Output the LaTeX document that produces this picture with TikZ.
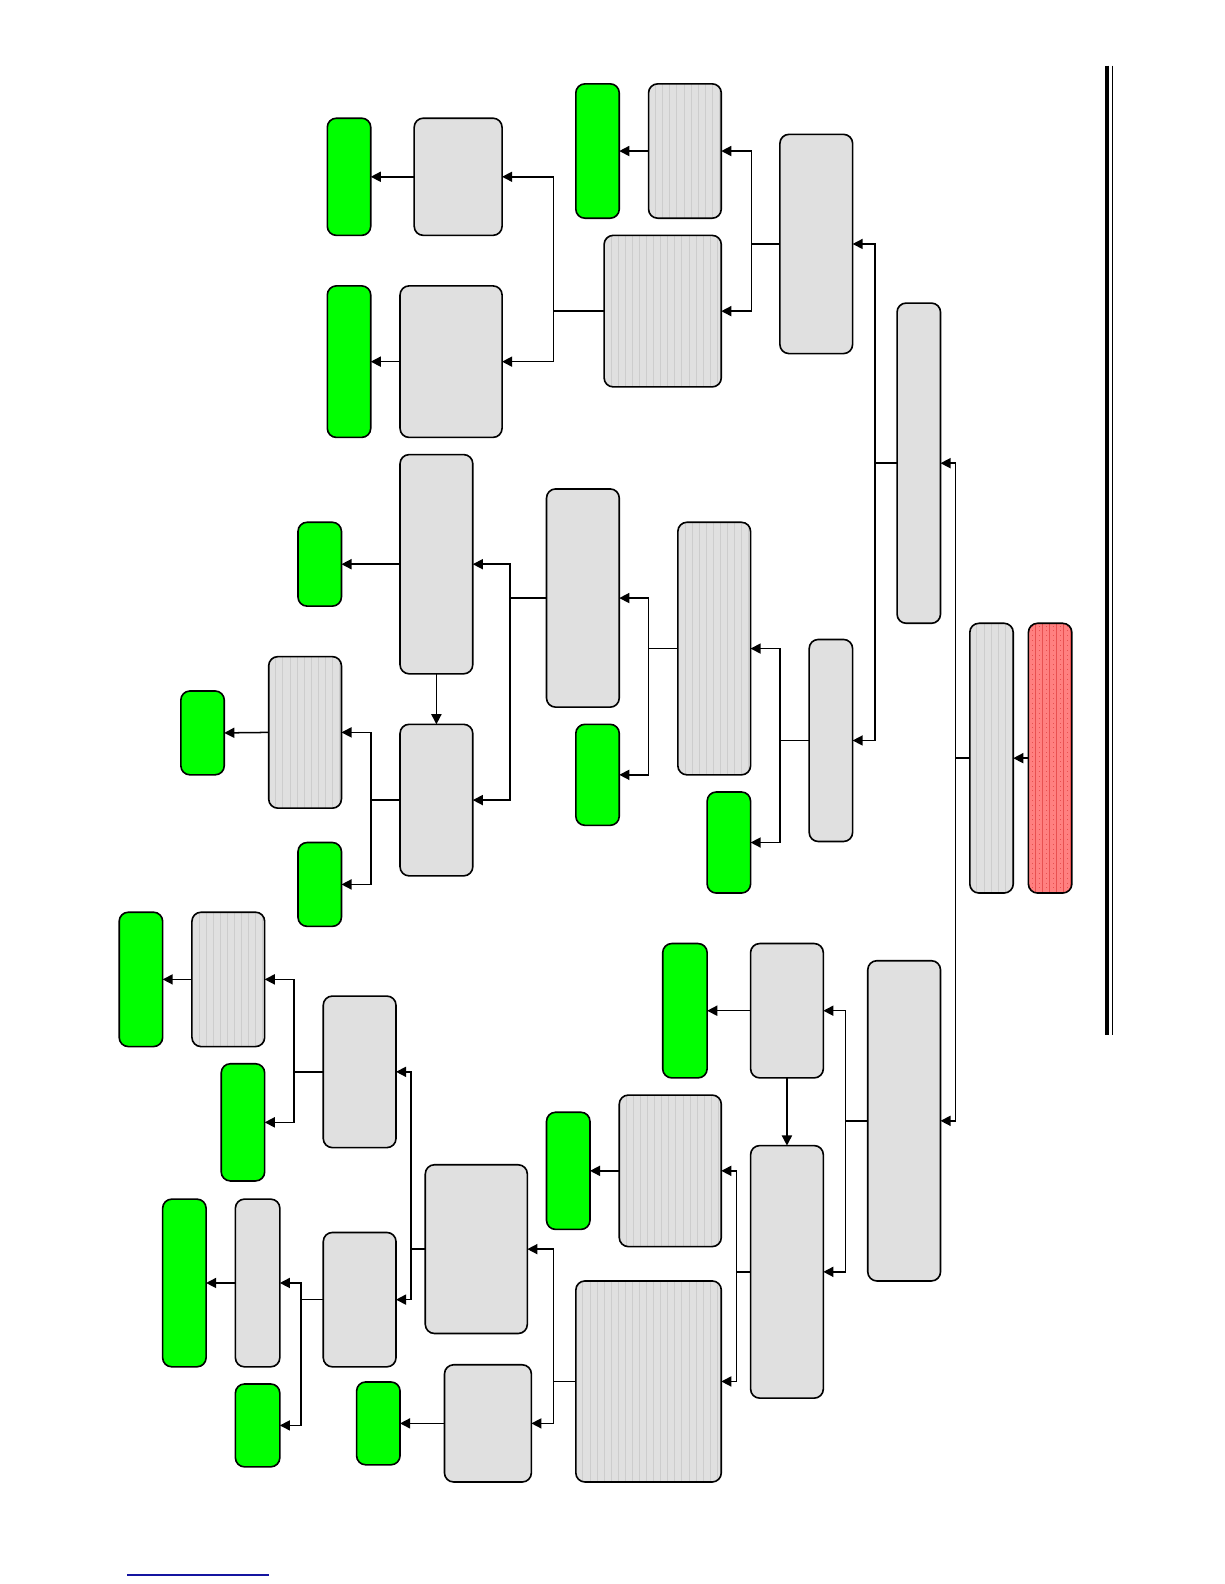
\documentclass[tikz,border=0pt]{standalone}
\usetikzlibrary{arrows.meta}
\definecolor{boxgray}{RGB}{224,224,224}
\definecolor{stripegray}{RGB}{205,205,205}
\definecolor{boxgreen}{RGB}{0,255,0}
\definecolor{boxred}{RGB}{255,128,128}
\definecolor{stripered}{RGB}{232,80,80}
\definecolor{linkblue}{RGB}{20,20,160}
\tikzset{
  x=0.5pt, y=-0.5pt,
  base/.style={draw=black, line width=0.8pt, rounded corners=4.5pt, inner sep=0pt, outer sep=0pt},
  gbox/.style={base, fill=boxgray},
  grn/.style={base, fill=boxgreen},
  sbox/.style={base, fill=boxgray, path picture={
      \foreach \k in {1,...,24}{\draw[stripegray, line width=0.4pt]
        ([xshift=\k*3.5pt]path picture bounding box.south west) --
        ([xshift=\k*3.5pt]path picture bounding box.north west);}}},
  rbox/.style={base, fill=boxred, path picture={
      \foreach \k in {1,...,7}{\draw[stripered, line width=0.4pt]
        ([xshift=\k*3.5pt]path picture bounding box.south west) --
        ([xshift=\k*3.5pt]path picture bounding box.north west);
        \draw[stripered, line width=0.4pt, dotted]
        ([xshift=\k*3.5pt-1.75pt]path picture bounding box.south west) --
        ([xshift=\k*3.5pt-1.75pt]path picture bounding box.north west);}}},
  link/.style={draw=black, line width=0.75pt},
  arr/.style={link, -{Triangle[length=5pt,width=5pt]}},
}
\newcommand\bx[6]{\node[#6, minimum width={(#4-#2)*0.5pt}, minimum height={(#5-#3)*0.5pt}] (#1) at ({(#2+#4)/2},{(#3+#5)/2}) {};}
\newcommand\conn[3]{\draw[link] (#1.west) -- (#1.west -| #2); \draw[arr] (#1.west -| #2) |- (#3.east);}
\begin{document}
\begin{tikzpicture}
\useasboundingbox (0,0) rectangle (1212,1568);
% side rule and link
\coordinate (ruleA) at (1096,65); \coordinate (ruleB) at (1096,1025);
\draw[line width=2pt] (ruleA) -- (ruleB);
\draw[line width=0.6pt] ([xshift=2.6pt]ruleA) -- ([xshift=2.6pt]ruleB);
\coordinate (blA) at (126,1559); \coordinate (blB) at (266,1559);
\draw[linkblue, line width=0.6pt] (blA) -- (blB);
% bus coordinates
\coordinate (b0) at (946,0);
\coordinate (bA) at (866,0);
\coordinate (bB) at (744,0);
\coordinate (bE) at (548,0);
\coordinate (bC) at (772,0);
\coordinate (bI) at (642,0);
\coordinate (bJ) at (505,0);
\coordinate (bL) at (367,0);
\coordinate (bN) at (837,0);
\coordinate (bP) at (729,0);
\coordinate (bR) at (548,0);
\coordinate (bS) at (407,0);
\coordinate (bU) at (291,0);
\coordinate (bV) at (298,0);
% root
\bx{red}{1018}{617}{1061}{884}{rbox}
\bx{root}{960}{617}{1003}{884}{sbox}
% top branch
\bx{A}{888}{300}{931}{617}{gbox}
\bx{B}{772}{133}{844}{350}{gbox}
\bx{D}{642}{83}{714}{216}{sbox}
\bx{G1}{570}{83}{613}{216}{grn}
\bx{E}{598}{233}{714}{383}{sbox}
\bx{F}{410}{117}{497}{233}{gbox}
\bx{G2}{324}{117}{367}{233}{grn}
\bx{H}{396}{283}{497}{433}{gbox}
\bx{G3}{324}{283}{367}{433}{grn}
\bx{C}{801}{633}{844}{833}{gbox}
\bx{I}{671}{517}{743}{767}{sbox}
\bx{G4}{700}{784}{743}{884}{grn}
\bx{J}{541}{484}{613}{700}{gbox}
\bx{G5}{570}{717}{613}{817}{grn}
\bx{K}{396}{450}{468}{667}{gbox}
\bx{L}{396}{717}{468}{867}{gbox}
\bx{G6}{295}{517}{338}{600}{grn}
\bx{M}{266}{650}{338}{800}{sbox}
\bx{G7}{295}{834}{338}{917}{grn}
\bx{G8}{179}{684}{222}{767}{grn}
% bottom branch
\bx{N}{859}{951}{931}{1268}{gbox}
\bx{O}{743}{934}{815}{1067}{gbox}
\bx{G9}{656}{934}{700}{1067}{grn}
\bx{P}{743}{1134}{815}{1384}{gbox}
\bx{Q}{613}{1084}{714}{1234}{sbox}
\bx{G10}{541}{1101}{584}{1217}{grn}
\bx{R}{570}{1268}{714}{1467}{sbox}
\bx{S}{421}{1153}{522}{1320}{gbox}
\bx{T}{440}{1351}{526}{1467}{gbox}
\bx{G11}{353}{1368}{396}{1450}{grn}
\bx{U}{320}{986}{392}{1136}{gbox}
\bx{V}{320}{1220}{392}{1353}{gbox}
\bx{W}{190}{903}{262}{1036}{sbox}
\bx{G12}{219}{1053}{262}{1169}{grn}
\bx{G13}{118}{903}{161}{1036}{grn}
\bx{X}{233}{1187}{277}{1353}{gbox}
\bx{G14}{233}{1370}{277}{1452}{grn}
\bx{G15}{161}{1187}{204}{1353}{grn}
% connectors
\draw[arr] (red.west) -- (root.east);
\conn{root}{b0}{A}
\conn{root}{b0}{N}
\conn{A}{bA}{B}
\conn{A}{bA}{C}
\conn{B}{bB}{D}
\conn{B}{bB}{E}
\draw[arr] (D.west) -- (G1.east);
\conn{E}{bE}{F}
\conn{E}{bE}{H}
\draw[arr] (F.west) -- (G2.east);
\draw[arr] (H.west) -- (G3.east);
\conn{C}{bC}{I}
\conn{C}{bC}{G4}
\conn{I}{bI}{J}
\conn{I}{bI}{G5}
\conn{J}{bJ}{K}
\conn{J}{bJ}{L}
\draw[arr] (K.west) -- (G6.east);
\draw[arr] (K.south) -- (L.north);
\conn{L}{bL}{M}
\conn{L}{bL}{G7}
\draw[arr] (M.west) -- (G8.east);
\conn{N}{bN}{O}
\conn{N}{bN}{P}
\draw[arr] (O.west) -- (G9.east);
\draw[arr] (O.south) -- (P.north);
\conn{P}{bP}{Q}
\conn{P}{bP}{R}
\draw[arr] (Q.west) -- (G10.east);
\conn{R}{bR}{S}
\conn{R}{bR}{T}
\draw[arr] (T.west) -- (G11.east);
\conn{S}{bS}{U}
\conn{S}{bS}{V}
\conn{U}{bU}{W}
\conn{U}{bU}{G12}
\draw[arr] (W.west) -- (G13.east);
\conn{V}{bV}{X}
\conn{V}{bV}{G14}
\draw[arr] (X.west) -- (G15.east);
\end{tikzpicture}
\end{document}
